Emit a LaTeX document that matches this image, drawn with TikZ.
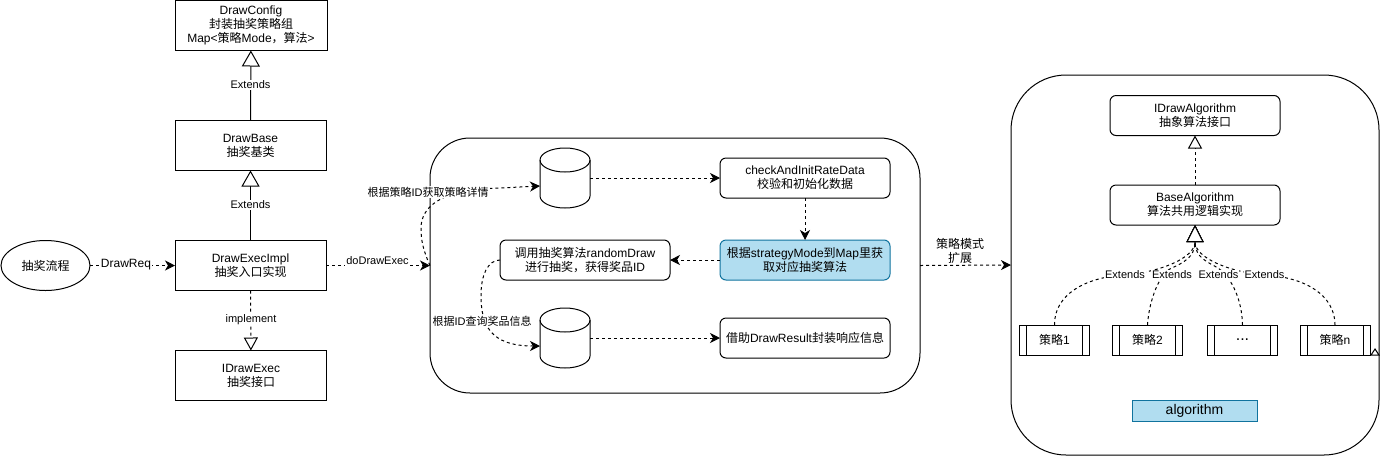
\documentclass[tikz,border=0pt]{standalone}
\usepackage{fontspec}
\setmainfont{Liberation Sans}
\newfontfamily\cjk{Noto Sans CJK SC}
\newcommand{\zh}[1]{{\cjk #1}}
\usetikzlibrary{arrows.meta,shapes.geometric}
\definecolor{bluefill}{HTML}{B1DDF0}
\definecolor{bluedraw}{HTML}{10739E}
\tikzset{
  every node/.style={outer sep=0pt,inner sep=0pt,align=center,font=\fontsize{12}{14}\selectfont},
  flow/.style={line width=1pt,dash pattern=on 3pt off 3pt,-{Stealth[length=10pt,width=10pt,inset=3pt]}},
  extsolid/.style={line width=1pt,-{Triangle[length=16pt,width=18pt,fill=white,line width=1pt]}},
  impldash/.style={line width=1pt,dash pattern=on 3pt off 3pt,-{Triangle[length=13pt,width=14pt,fill=white,line width=1pt]}},
  curveext/.style={line width=1pt,dash pattern=on 3pt off 3pt,-{Triangle[length=17pt,width=17pt,fill=white,line width=1pt]}},
  box/.style={draw,line width=1pt,rectangle,fill=white},
  rbox/.style={draw,line width=1pt,rectangle,rounded corners=6pt,fill=white},
  bluebox/.style={rbox,fill=bluefill,draw=bluedraw},
  panelone/.style={draw,line width=1pt,rectangle,rounded corners=40pt,fill=white},
  paneltwo/.style={draw,line width=1pt,rectangle,rounded corners=55pt,fill=white},
  startnode/.style={draw,line width=1pt,ellipse,fill=white},
  lbl/.style={fill=white,inner sep=1pt,font=\fontsize{11}{13}\selectfont},
  subproc/.style={draw,line width=1pt,rectangle,fill=white,minimum width=70pt,minimum height=30pt,
    path picture={
      \draw[line width=1pt] ([xshift=7pt]path picture bounding box.north west) -- ([xshift=7pt]path picture bounding box.south west);
      \draw[line width=1pt] ([xshift=-7pt]path picture bounding box.north east) -- ([xshift=-7pt]path picture bounding box.south east);
    }},
  cylbox/.style={rectangle,minimum width=50pt,minimum height=60pt},
}
\newcommand{\dbshape}[1]{%
  \draw[line width=1pt,fill=white] ([yshift=-12pt]#1.north west)
    arc[start angle=180,end angle=0,x radius=25pt,y radius=12pt]
    -- ([yshift=12pt]#1.south east)
    arc[start angle=0,end angle=-180,x radius=25pt,y radius=12pt] -- cycle;
  \draw[line width=1pt] ([yshift=-12pt]#1.north west)
    arc[start angle=180,end angle=360,x radius=25pt,y radius=12pt];
}
\begin{document}
\begin{tikzpicture}[x=1pt,y=-1pt]
\useasboundingbox (0,0) rectangle (1388,456);
% panels
\node[panelone,minimum width=490pt,minimum height=255pt] (p1) at (675,265.5) {};
\node[paneltwo,minimum width=368pt,minimum height=380pt] (p2) at (1195,265) {};
% left column
\node[box,minimum width=152pt,minimum height=50pt] (cfg) at (251,25.5) {DrawConfig\\\zh{封装抽奖策略组}\\Map<\zh{策略}Mode\zh{，算法}>};
\node[box,minimum width=151pt,minimum height=50pt] (base) at (250.5,145.5) {DrawBase\\\zh{抽奖基类}};
\node[box,minimum width=151pt,minimum height=50pt] (impl) at (250.5,265.5) {DrawExecImpl\\\zh{抽奖入口实现}};
\node[box,minimum width=151pt,minimum height=50pt] (iexec) at (251,375.5) {IDrawExec\\\zh{抽奖接口}};
\node[startnode,minimum width=89pt,minimum height=50pt] (start) at (45.5,265.5) {\zh{抽奖流程}};
% middle
\node[cylbox] (db1) at (565,178) {};
\node[cylbox] (db2) at (565,338) {};
\dbshape{db1}
\dbshape{db2}
\node[rbox,minimum width=170pt,minimum height=40pt] (check) at (805,178) {checkAndInitRateData\\\zh{校验和初始化数据}};
\node[bluebox,minimum width=170pt,minimum height=40pt] (mode) at (805,260) {\zh{根据}strategyMode\zh{到}Map\zh{里获}\\\zh{取对应抽奖算法}};
\node[rbox,minimum width=170pt,minimum height=40pt] (call) at (585,260) {\zh{调用抽奖算法}randomDraw\\\zh{进行抽奖，获得奖品}ID};
\node[rbox,minimum width=170pt,minimum height=40pt] (result) at (805,338) {\zh{借助}DrawResult\zh{封装响应信息}};
% right
\node[rbox,minimum width=170pt,minimum height=40pt] (ialg) at (1195,115.5) {IDrawAlgorithm\\\zh{抽象算法接口}};
\node[rbox,minimum width=170pt,minimum height=40pt] (balg) at (1195,205) {BaseAlgorithm\\\zh{算法共用逻辑实现}};
\node[subproc] (s1) at (1054.5,340) {\zh{策略}1};
\node[subproc] (s2) at (1147.5,340) {\zh{策略}2};
\node[subproc] (s3) at (1242.5,340) {\fontsize{16}{16}\selectfont ...};
\node[subproc] (sn) at (1335,340) {\zh{策略}n};
\node[rectangle,draw=bluedraw,fill=bluefill,line width=1pt,minimum width=125pt,minimum height=21pt,font=\fontsize{14}{16}\selectfont] (alg) at (1194.5,410.5) {algorithm};
\draw[line width=1pt,fill=white] (1371,355) -- (1375,349) -- (1379,355) -- cycle;
% connectors
\draw[extsolid] (base) -- (cfg);
\draw[extsolid] (impl) -- (base);
\draw[impldash] (impl) -- (iexec);
\draw[flow] (start) -- (impl);
\draw[flow] (p1.west) .. controls (423,250) and (421,240) .. (421,228) .. controls (421,205) and (445,192) .. (480,189) -- ([yshift=-8pt]db1.west);
\draw[flow] (impl) -- (p1.west);
\draw[flow] (db1) -- (check);
\draw[flow] (check) -- (mode);
\draw[flow] (mode) -- (call);
\draw[flow] (call.west) .. controls (488,260) and (481,275) .. (481,295) .. controls (481,325) and (490,346) .. ([yshift=-8pt]db2.west);
\draw[flow] (db2) -- (result);
\draw[flow] (p1.east) -- (p2.west);
\draw[impldash] (balg) -- (ialg);
\draw[curveext] (s1.north) .. controls (1054,295) and (1085,277) .. (1125,275) .. controls (1160,272) and (1195,258) .. (balg.south);
\draw[curveext] (s2.north) .. controls (1149,300) and (1160,272) .. (1172,268) .. controls (1182,263) and (1195,258) .. (balg.south);
\draw[curveext] (s3.north) .. controls (1242,300) and (1232,278) .. (1218,268) .. controls (1208,262) and (1195,258) .. (balg.south);
\draw[curveext] (sn.north) .. controls (1335,295) and (1305,277) .. (1264,275) .. controls (1230,272) and (1195,258) .. (balg.south);
% labels
\node[lbl] (l1) at (250.5,85) {Extends};
\node[lbl] (l2) at (250.5,205) {Extends};
\node[lbl] (l3) at (251,320) {implement};
\node[fill=white,inner sep=1pt] (l4) at (126,264.5) {DrawReq};
\node[lbl] (l5) at (377.5,261) {doDrawExec};
\node[lbl] (l6) at (428,192) {\zh{根据策略}ID\zh{获取策略详情}};
\node[lbl] (l7) at (482,321) {\zh{根据}ID\zh{查询奖品信息}};
\node[inner sep=0pt] (l8) at (960,251) {\zh{策略模式}\\\zh{扩展}};
\node[lbl] (e1) at (1125,275) {Extends};
\node[lbl] (e2) at (1172,275) {Extends};
\node[lbl] (e3) at (1218.5,275) {Extends};
\node[lbl] (e4) at (1264.5,275) {Extends};
\end{tikzpicture}
\end{document}
